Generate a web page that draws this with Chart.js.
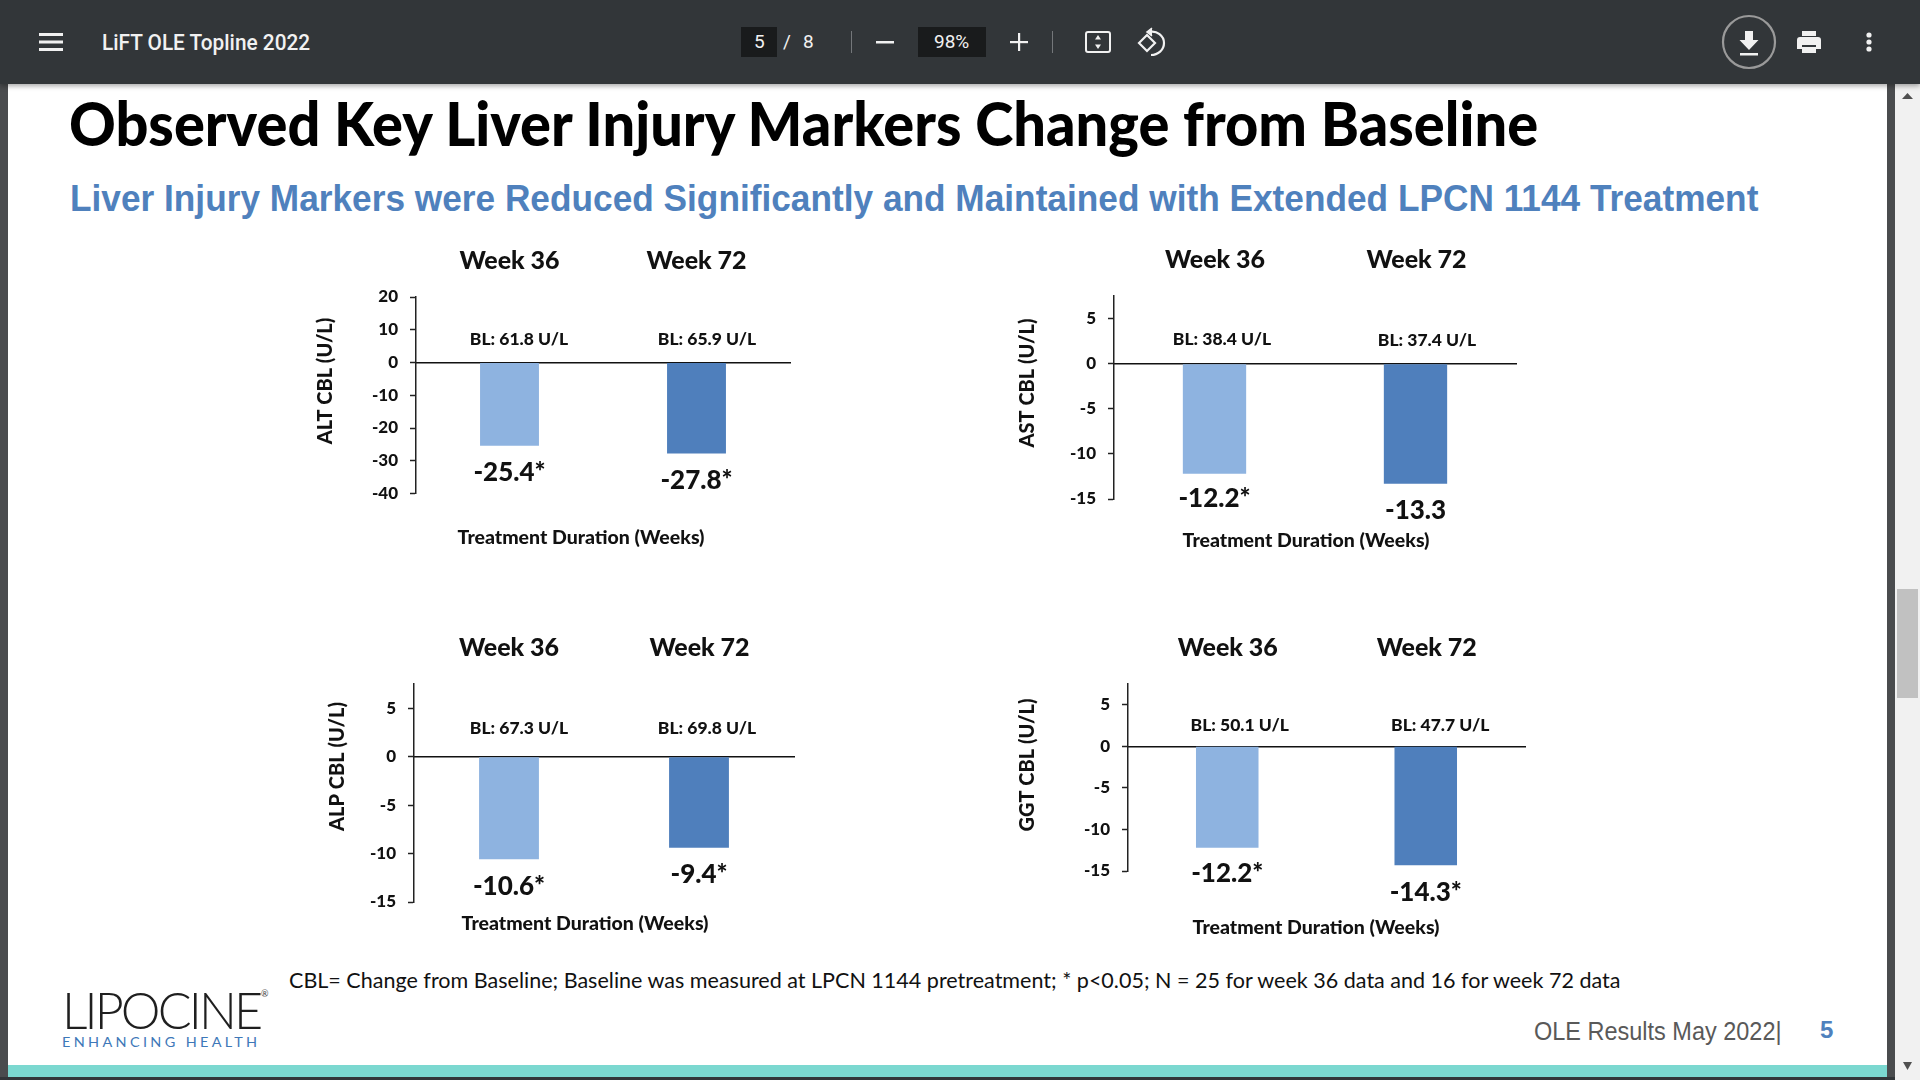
<!DOCTYPE html>
<html>
<head>
<meta charset="utf-8">
<title>LiFT OLE Topline 2022</title>
<script src="https://cdn.jsdelivr.net/npm/chart.js@4/dist/chart.umd.min.js"></script>
<style>
  html, body { margin: 0; padding: 0; width: 1920px; height: 1080px; overflow: hidden; background: #fff; }
  body { position: relative; font-family: Lato, sans-serif; }
  .abs { position: absolute; }
  .txt { position: absolute; white-space: nowrap; line-height: 1; transform-origin: left center; }
  canvas { position: absolute; }
  #toolbar { left: 0; top: 0; width: 1920px; height: 84px; background: #323639; box-shadow: 0 2px 5px rgba(0,0,0,.35); z-index: 5; }
  .tb { color: #f1f1f1; font-family: Roboto, sans-serif; font-size: 19px; }
  .box { position: absolute; background: #191b1c; top: 27px; height: 30px; }
  .sep { position: absolute; top: 31px; width: 1px; height: 22px; background: #74777a; }
</style>
</head>
<body>
<div class="abs" style="left:0;top:0;width:8px;height:1080px;background:#4a4c4e"></div>
<div class="abs" style="left:1887px;top:0;width:8px;height:1080px;background:#4a4c4e"></div>
<div class="abs" style="left:1895px;top:0;width:25px;height:1080px;background:#f1f1f1"></div>
<div class="abs" style="left:1897px;top:589px;width:21px;height:109px;background:#c1c1c1"></div>
<svg class="abs" style="left:1895px;top:84px" width="25" height="20"><path d="M7 15 L18 15 L12.5 9 Z" fill="#505050"/></svg>
<svg class="abs" style="left:1895px;top:1056px" width="25" height="20"><path d="M8 6 L17 6 L12.5 14 Z" fill="#505050"/></svg>

<div id="toolbar" class="abs">
  <svg class="abs" style="left:39px;top:33px" width="24" height="18" fill="#f1f1f1"><rect y="0" width="24" height="3"/><rect y="7.5" width="24" height="3"/><rect y="15" width="24" height="3"/></svg>
  <div class="txt fit" data-w="208" style="left:102px;top:30px;font:500 22px Roboto,sans-serif;color:#f1f1f1">LiFT OLE Topline 2022</div>
  <div class="box" style="left:741px;width:36px"></div>
  <div class="txt tb" style="left:754px;top:32px">5</div>
  <div class="txt tb" style="left:783px;top:32px">/</div>
  <div class="txt tb" style="left:803px;top:32px">8</div>
  <div class="sep" style="left:851px"></div>
  <svg class="abs" style="left:876px;top:41px" width="18" height="3"><rect width="18" height="2.5" fill="#f1f1f1"/></svg>
  <div class="box" style="left:918px;width:68px"></div>
  <div class="txt tb" style="left:934px;top:32px">98%</div>
  <svg class="abs" style="left:1010px;top:33px" width="18" height="18" fill="#f1f1f1"><rect x="8" width="2.2" height="18"/><rect y="8" width="18" height="2.2"/></svg>
  <div class="sep" style="left:1052px"></div>
  <svg class="abs" style="left:1084px;top:30px" width="28" height="24"><rect x="2" y="2" width="24" height="20" rx="2" fill="none" stroke="#f1f1f1" stroke-width="2"/><path d="M14 5 L17 9.5 L11 9.5 Z M14 19 L17 14.5 L11 14.5 Z" fill="#f1f1f1"/></svg>
  <svg class="abs" style="left:1136px;top:26px" width="30" height="32" fill="none" stroke="#f1f1f1" stroke-width="2.2"><path d="M3 17 L11 9 L19 17 L11 25 Z"/><path d="M13 6 C21 4 28 10 28 17 C28 24 22 29 15 29"/><path d="M16 2 L11 6 L16 10" stroke-width="1.6" fill="#f1f1f1"/></svg>
  <svg class="abs" style="left:1720px;top:13px" width="58" height="58"><circle cx="29" cy="29" r="26" fill="none" stroke="#9a9a9a" stroke-width="2.2"/><path d="M25 18 H33 V27 H38.5 L29 37 L19.5 27 H25 Z" fill="#f1f1f1"/><rect x="20" y="40" width="18" height="2.5" fill="#f1f1f1"/></svg>
  <svg class="abs" style="left:1795px;top:28px" width="28" height="26"><path d="M7 3 H21 V8 H7 Z M2 12 Q2 9 5 9 H23 Q26 9 26 12 V21 H21 V17 H7 V21 H2 Z M7 19 H21 V25 H7 Z" fill="#f1f1f1"/></svg>
  <svg class="abs" style="left:1863px;top:30px" width="12" height="24" fill="#f1f1f1"><circle cx="6" cy="5" r="2.6"/><circle cx="6" cy="12" r="2.6"/><circle cx="6" cy="19" r="2.6"/></svg>
</div>

<div class="txt fit" data-w="1469" style="left:69px;top:86px;font:900 61px Lato,sans-serif;color:#000">Observed Key Liver Injury Markers Change from Baseline</div>
<div class="txt fit" data-w="1688" style="left:70px;top:178px;font:700 37px 'Liberation Sans',sans-serif;color:#4f81bd">Liver Injury Markers were Reduced Significantly and Maintained with Extended LPCN 1144 Treatment</div>

<canvas id="altChart"></canvas>
<canvas id="astChart"></canvas>
<canvas id="alpChart"></canvas>
<canvas id="ggtChart"></canvas>

<div class="txt fit" data-w="1331" style="left:289px;top:966px;font:400 22px Lato,sans-serif;color:#111">CBL= Change from Baseline; Baseline was measured at LPCN 1144 pretreatment; * p&lt;0.05; N = 25 for week 36 data and 16 for week 72 data</div>
<div class="txt fit" data-w="198" style="left:62px;top:978px;font:300 52px Lato,sans-serif;letter-spacing:-3px;color:#1f1f1f">LIPOCINE</div>
<div class="txt" style="left:261px;top:988px;font:400 9px Lato,sans-serif;color:#444">®</div>
<div class="txt fit" data-w="198" style="left:62px;top:1034px;font:400 13px Lato,sans-serif;letter-spacing:3px;color:#3e78b8">ENHANCING HEALTH</div>
<div class="txt fit" data-w="248" style="left:1534px;top:1017px;font:400 25px 'Liberation Sans',sans-serif;color:#595959">OLE Results May 2022|</div>
<div class="txt" style="left:1820px;top:1016px;font:700 24px 'Liberation Sans',sans-serif;color:#4f81bd">5</div>
<div class="abs" style="left:8px;top:1065px;width:1879px;height:12px;background:#7bd8d0"></div>
<div class="abs" style="left:0;top:1077px;width:1895px;height:3px;background:#323639"></div>

<script>
// chart data
const categories = ['Week 36', 'Week 72'];
const barColors = ['#8eb3e0', '#4f7fbc'];
const xTitle = 'Treatment Duration (Weeks)';

const altValues = [-25.4, -27.8];
const astValues = [-12.2, -13.3];
const alpValues = [-10.6, -9.4];
const ggtValues = [-12.2, -14.3];

const altLabels = ['-25.4*', '-27.8*'];
const astLabels = ['-12.2*', '-13.3'];
const alpLabels = ['-10.6*', '-9.4*'];
const ggtLabels = ['-12.2*', '-14.3*'];

const altBaseline = ['BL: 61.8 U/L', 'BL: 65.9 U/L'];
const astBaseline = ['BL: 38.4 U/L', 'BL: 37.4 U/L'];
const alpBaseline = ['BL: 67.3 U/L', 'BL: 69.8 U/L'];
const ggtBaseline = ['BL: 50.1 U/L', 'BL: 47.7 U/L'];

const altTicks = [20, 10, 0, -10, -20, -30, -40];
const enzymeTicks = [5, 0, -5, -10, -15];

const FONT = 'Lato, sans-serif';

// Text drawn on top of each chart, anchored on the bars where it can be
const slideText = {
    id: 'slideText',
    afterDatasetsDraw(chart, args, opts) {
        const ctx = chart.ctx;
        const bars = chart.getDatasetMeta(0).data;
        const put = function(text, x, y, size, rotate) {
            ctx.save();
            ctx.font = '900 ' + size + 'px ' + FONT;
            ctx.fillStyle = '#111';
            ctx.textAlign = 'center';
            ctx.textBaseline = 'middle';
            ctx.translate(x - opts.left, y - opts.top);
            if (rotate) ctx.rotate(-Math.PI / 2);
            ctx.fillText(text, 0, 0);
            ctx.restore();
        };

        bars.forEach(function(bar, i) {
            const barX = bar.x + opts.left;
            put(categories[i], barX + opts.weekDx[i], opts.weekY, 25);
            put(opts.baseline[i], barX + opts.blDx[i], opts.blY[i], 17.5);
            put(opts.labels[i], barX, bar.y + opts.top + opts.labelGap[i], 26);
        });
        put(xTitle, opts.xTitleX, opts.xTitleY, 19.5);
        put(opts.yTitle, opts.yTitleX, opts.yTitleY, 20, true);
    }
};

function drawPanel(id, values, ticks, p) {
    const canvas = document.getElementById(id);
    const left = p.axisX - 110;
    const width = p.right - left + 20;
    canvas.style.left = left + 'px';
    canvas.style.top = p.canvasTop + 'px';
    canvas.width = width;
    canvas.height = p.canvasH;
    canvas.style.width = width + 'px';
    canvas.style.height = p.canvasH + 'px';

    new Chart(canvas, {
        type: 'bar',
        data: {
            labels: categories,
            datasets: [{
                data: values,
                backgroundColor: barColors,
                barPercentage: 0.315,
                categoryPercentage: 1
            }]
        },
        options: {
            responsive: false,
            animation: false,
            devicePixelRatio: 1,
            layout: {
                padding: {
                    top: p.top - p.canvasTop,
                    bottom: p.canvasTop + p.canvasH - p.bottom,
                    right: 20,
                    left: 0
                }
            },
            plugins: {
                legend: { display: false },
                tooltip: { enabled: false },
                slideText: {
                    left: left,
                    top: p.canvasTop,
                    weekY: p.weekY,
                    weekDx: p.weekDx,
                    blY: p.blY,
                    blDx: p.blDx,
                    labelGap: p.labelGap,
                    labels: p.labels,
                    baseline: p.baseline,
                    xTitleX: p.xTitleX,
                    xTitleY: p.xTitleY,
                    yTitle: p.yTitle,
                    yTitleX: p.yTitleX,
                    yTitleY: p.yTitleY
                }
            },
            scales: {
                x: {
                    position: { y: 0 },
                    grid: { display: false },
                    ticks: { display: false },
                    border: { color: '#111', width: 1.5 }
                },
                y: {
                    min: p.min,
                    max: p.max,
                    afterFit: function(scale) { scale.width = 110; },
                    afterBuildTicks: function(scale) {
                        scale.ticks = ticks.map(function(v) { return { value: v }; });
                    },
                    grid: { drawOnChartArea: false, tickLength: 6, tickColor: '#222', tickWidth: 1.5 },
                    border: { color: '#222', width: 1.5 },
                    ticks: {
                        color: '#111',
                        padding: 12,
                        font: { family: FONT, size: 17, weight: '900' }
                    }
                }
            }
        },
        plugins: [slideText]
    });
}

drawPanel('altChart', altValues, altTicks, {
    axisX: 416, right: 790, top: 297, bottom: 493.5, min: -40, max: 20, canvasTop: 240, canvasH: 320,
    labels: altLabels, baseline: altBaseline, yTitle: 'ALT CBL (U/L)',
    weekY: 261, weekDx: [0, 0], blY: [339, 339], blDx: [9.5, 10.5], labelGap: [27, 27],
    xTitleX: 581, xTitleY: 538, yTitleX: 326, yTitleY: 381
});
drawPanel('astChart', astValues, enzymeTicks, {
    axisX: 1114, right: 1516, top: 296, bottom: 499, min: -15, max: 7.5, canvasTop: 240, canvasH: 320,
    labels: astLabels, baseline: astBaseline, yTitle: 'AST CBL (U/L)',
    weekY: 260, weekDx: [0.5, 1], blY: [339.5, 340], blDx: [7.5, 11.5], labelGap: [25, 27],
    xTitleX: 1306, xTitleY: 541, yTitleX: 1028, yTitleY: 383
});
drawPanel('alpChart', alpValues, enzymeTicks, {
    axisX: 414, right: 794, top: 684, bottom: 902, min: -15, max: 7.5, canvasTop: 630, canvasH: 320,
    labels: alpLabels, baseline: alpBaseline, yTitle: 'ALP CBL (U/L)',
    weekY: 648, weekDx: [0, 0.5], blY: [728, 728], blDx: [10, 8], labelGap: [27, 27],
    xTitleX: 585, xTitleY: 923.5, yTitleX: 338, yTitleY: 766.5
});
drawPanel('ggtChart', ggtValues, enzymeTicks, {
    axisX: 1128, right: 1525, top: 684, bottom: 871, min: -15, max: 7.5, canvasTop: 630, canvasH: 320,
    labels: ggtLabels, baseline: ggtBaseline, yTitle: 'GGT CBL (U/L)',
    weekY: 648, weekDx: [0.5, 1], blY: [725, 725], blDx: [12.5, 14.5], labelGap: [26, 27],
    xTitleX: 1316, xTitleY: 928, yTitleX: 1028, yTitleY: 765
});

// Squeeze the DOM text to the width it has on the slide
document.querySelectorAll('.fit').forEach(function(el) {
    const target = Number(el.dataset.w);
    el.style.transform = 'scaleX(' + (target / el.offsetWidth) + ')';
});
</script>
</body>
</html>
